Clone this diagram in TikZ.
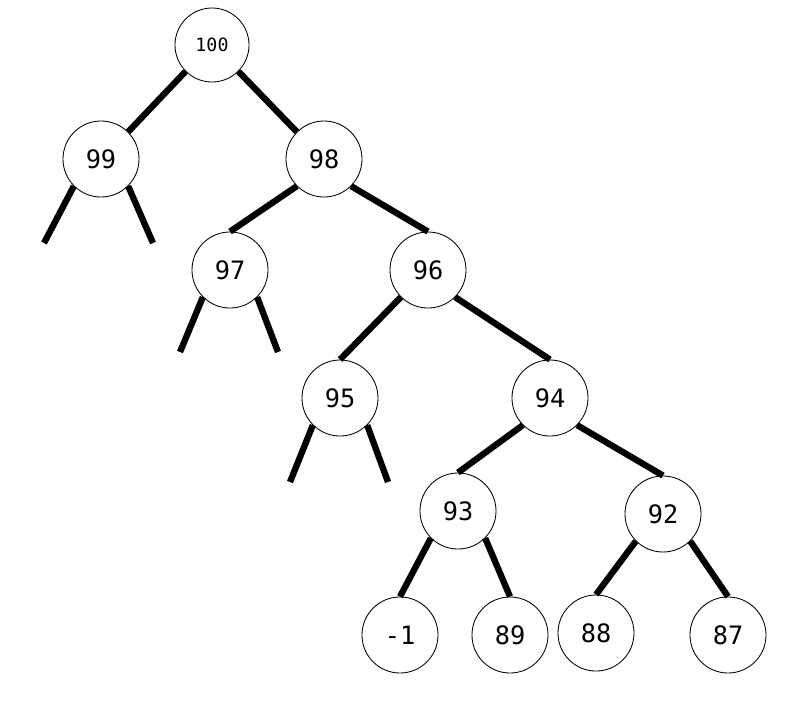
\documentclass[tikz,border=0pt]{standalone}
\usepackage{fontspec}
\setmonofont{DejaVu Sans Mono}
\usetikzlibrary{positioning}

\tikzset{
    vertex/.style={draw,circle,line width=0.6pt,minimum size=1.9cm,inner sep=0pt,
        font=\ttfamily\fontsize{18}{20}\selectfont},
    link/.style={line width=4.5pt}
}

\begin{document}
\begin{tikzpicture}[x=0.025cm,y=-0.025cm]
    \useasboundingbox (0,0) rectangle (791,706);
    % nodes of the heap
    \node[vertex,minimum size=1.85cm,font=\ttfamily\fontsize{13}{15}\selectfont] (n100) at (212,45) {100};
    \node[vertex] (n99) at (101,159) {99};
    \node[vertex] (n98) at (324,159) {98};
    \node[vertex] (n97) at (230,270) {97};
    \node[vertex] (n96) at (428,270) {96};
    \node[vertex] (n95) at (340,398) {95};
    \node[vertex] (n94) at (550,398) {94};
    \node[vertex] (n93) at (458,511) {93};
    \node[vertex] (n92) at (663,514) {92};
    \node[vertex] (nm1) at (400,635) {-1};
    \node[vertex] (n89) at (510,635) {89};
    \node[vertex] (n88) at (596,633) {88};
    \node[vertex] (n87) at (728,635) {87};
    % loose ends
    \coordinate (s99l) at (44,243);
    \coordinate (s99r) at (153,243);
    \coordinate (s97l) at (180,352);
    \coordinate (s97r) at (278,352);
    \coordinate (s95l) at (290,482);
    \coordinate (s95r) at (388,482);
    % edges
    \draw[link] (n100.south west) -- (n99.north east);
    \draw[link] (n100.south east) -- (n98.north west);
    \draw[link] (n99.south west) -- (s99l);
    \draw[link] (n99.south east) -- (s99r);
    \draw[link] (n98.south west) -- (n97.north);
    \draw[link] (n98.south east) -- (n96.north);
    \draw[link] (n97.south west) -- (s97l);
    \draw[link] (n97.south east) -- (s97r);
    \draw[link] (n96.south west) -- (n95.north);
    \draw[link] (n96.south east) -- (n94.north);
    \draw[link] (n95.south west) -- (s95l);
    \draw[link] (n95.south east) -- (s95r);
    \draw[link] (n94.south west) -- (n93.north);
    \draw[link] (n94.south east) -- (n92.north);
    \draw[link] (n93.south west) -- (nm1.north);
    \draw[link] (n93.south east) -- (n89.north);
    \draw[link] (n92.south west) -- (n88.north);
    \draw[link] (n92.south east) -- (n87.north);
\end{tikzpicture}
\end{document}
